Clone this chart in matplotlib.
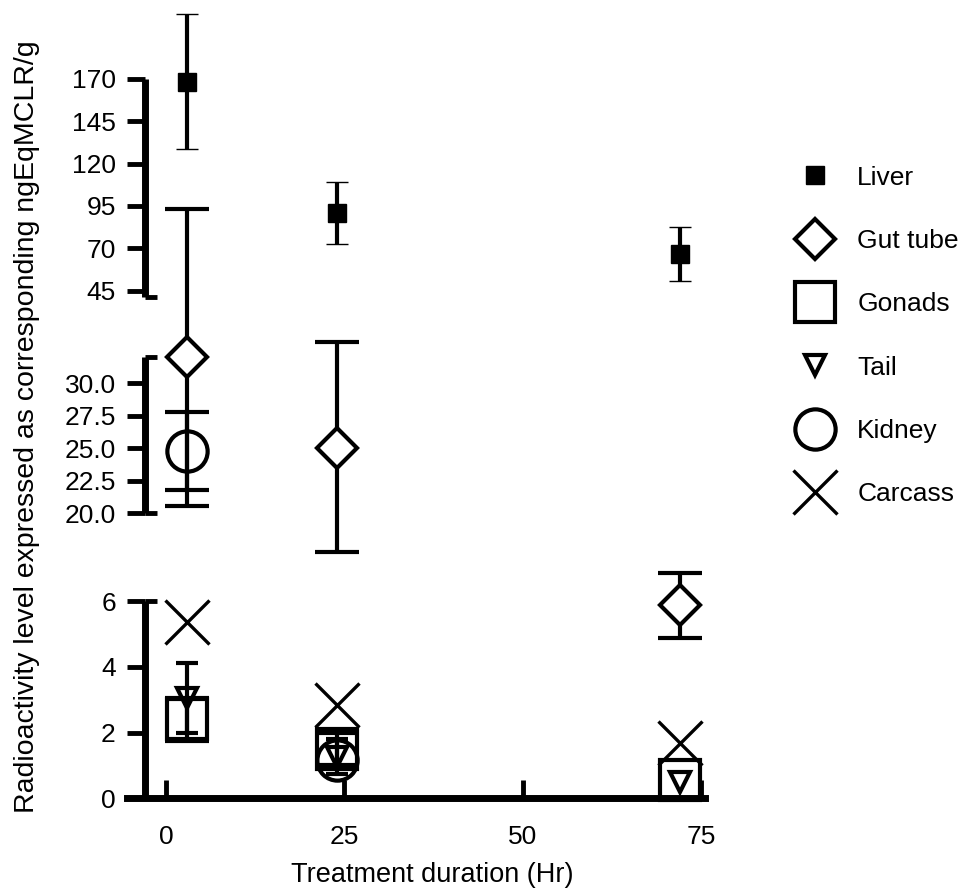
import numpy as np
import matplotlib
matplotlib.use("Agg")
import matplotlib.pyplot as plt
from matplotlib.lines import Line2D
from matplotlib.ticker import NullLocator

plt.rcParams["font.family"] = ["Liberation Sans", "DejaVu Sans"]

# --- DATA ---
hours = [3, 24, 72]
xtick_vals = [0, 25, 50, 75]

liver = [168.4, 91.0, 66.6]
liver_err = [40.0, 18.2, 15.8]

gut = [32.0, 25.0, 5.87]
gut_err_low = [11.4, 11.2, 1.0]
gut_err_high = [61.0, 9.3, 4.6]

gonads = [2.4, 1.5, 0.55]
gonads_err = [0.65, 0.5, np.nan]

tail = [3.05, 1.27, 0.5]
tail_err = [1.07, 0.53, np.nan]

kidney = [24.8, 1.17, np.nan]
kidney_err = [3.0, np.nan, np.nan]

carcass = [5.37, 2.85, 1.68]

labels = ["Liver", "Gut tube", "Gonads", "Tail", "Kidney", "Carcass"]

# broken y axis: three segments
y_segments = [(0, 6), (20, 32), (41.4, 170)]
ytick_vals = [0, 2, 4, 6, 20, 22.5, 25, 27.5, 30, 45, 70, 95, 120, 145, 170]
ytick_labels = ["0", "2", "4", "6", "20.0", "22.5", "25.0", "27.5", "30.0",
                "45", "70", "95", "120", "145", "170"]

# piecewise-linear scale (data value -> screen height), gaps between segments
y_dat = [-100, 0, 6, 20, 32, 41.4, 170, 1000]
y_pix = [-3285, 0, 197.3, 285, 441, 501.6, 719.3, 719.3 + 830 * 1.692]


def fwd(v):
    return np.interp(v, y_dat, y_pix)


def inv(p):
    return np.interp(p, y_pix, y_dat)


# --- FIGURE ---
fig = plt.figure(figsize=(9.69, 8.89), dpi=100)
ax = fig.add_axes([0.1307, 0.1020, 0.5968, 0.8891])
ax.set_yscale("function", functions=(fwd, inv))
ax.set_xlim(-5.5, 75.5)
ax.set_ylim(0, 212)

# marker styles
st_liver = dict(marker="s", ms=13, mfc="black", mec="black", mew=1)
st_gut = dict(marker="D", ms=20, mfc="white", mec="black", mew=3)
st_gonads = dict(marker="s", ms=29, mfc="none", mec="black", mew=3)
st_tail = dict(marker="v", ms=14, mfc="none", mec="black", mew=3)
st_kidney = dict(marker="o", ms=29, mfc="none", mec="black", mew=3)
st_carcass = dict(marker="x", ms=32, mfc="none", mec="black", mew=2.4)

eb = dict(ls="none", ecolor="black", elinewidth=3, capthick=3, clip_on=False)

ax.errorbar(hours, gonads, yerr=gonads_err, capsize=16, zorder=3, **eb, **st_gonads)
ax.errorbar(hours, tail, yerr=tail_err, capsize=8, zorder=4, **eb, **st_tail)
ax.errorbar(hours, kidney, yerr=kidney_err, capsize=16, zorder=5, **eb, **st_kidney)
ax.plot(hours, carcass, ls="none", clip_on=False, zorder=6, **st_carcass)
ax.errorbar(hours, gut, yerr=[gut_err_low, gut_err_high], capsize=16, zorder=7, **eb, **st_gut)
ax.errorbar(hours, liver, yerr=liver_err, capsize=8, zorder=8, **eb, **st_liver)

# --- AXES ---
for s in ["top", "right"]:
    ax.spines[s].set_visible(False)
ax.spines["bottom"].set_linewidth(5)
spine_x = -2.94
ax.spines["left"].set_position(("data", spine_x))
ax.spines["left"].set_visible(False)

for lo, hi in y_segments:
    ax.plot([spine_x, spine_x], [lo, hi], color="black", lw=5,
            solid_capstyle="butt", clip_on=False, zorder=2)
# small break stubs at segment ends
for v in [6, 20, 32, 41.4]:
    ax.plot([spine_x, spine_x + 1.7], [v, v], color="black", lw=3.5,
            solid_capstyle="butt", clip_on=False, zorder=2)

ax.set_yticks(ytick_vals)
ax.set_yticklabels(ytick_labels)
ax.yaxis.set_minor_locator(NullLocator())
ax.set_xticks(xtick_vals)
ax.tick_params(axis="y", direction="out", length=13, width=3.5, labelsize=19, pad=8)
ax.tick_params(axis="x", direction="in", length=13, width=3.5, labelsize=19, pad=19)

ax.set_xlabel("Treatment duration (Hr)", fontsize=19.5)
ax.xaxis.set_label_coords(0.529, -0.097)
ax.xaxis.label.set_va("center")
ax.set_ylabel("Radioactivity level expressed as corresponding ngEqMCLR/g", fontsize=20.5)
ax.yaxis.set_label_coords(-0.1724, 0.470)
ax.yaxis.label.set_va("center")

# --- LEGEND ---
handles = [Line2D([], [], ls="none", **st) for st in
           [st_liver, st_gut, st_gonads, st_tail, st_kidney, st_carcass]]
fig.legend(handles, labels, loc="upper left", bbox_to_anchor=(0.8194, 0.8136),
           frameon=False, fontsize=19, handlelength=1.6, handletextpad=0.8,
           labelspacing=1.49, borderpad=0, borderaxespad=0)

fig.savefig("out.png", dpi=100)
